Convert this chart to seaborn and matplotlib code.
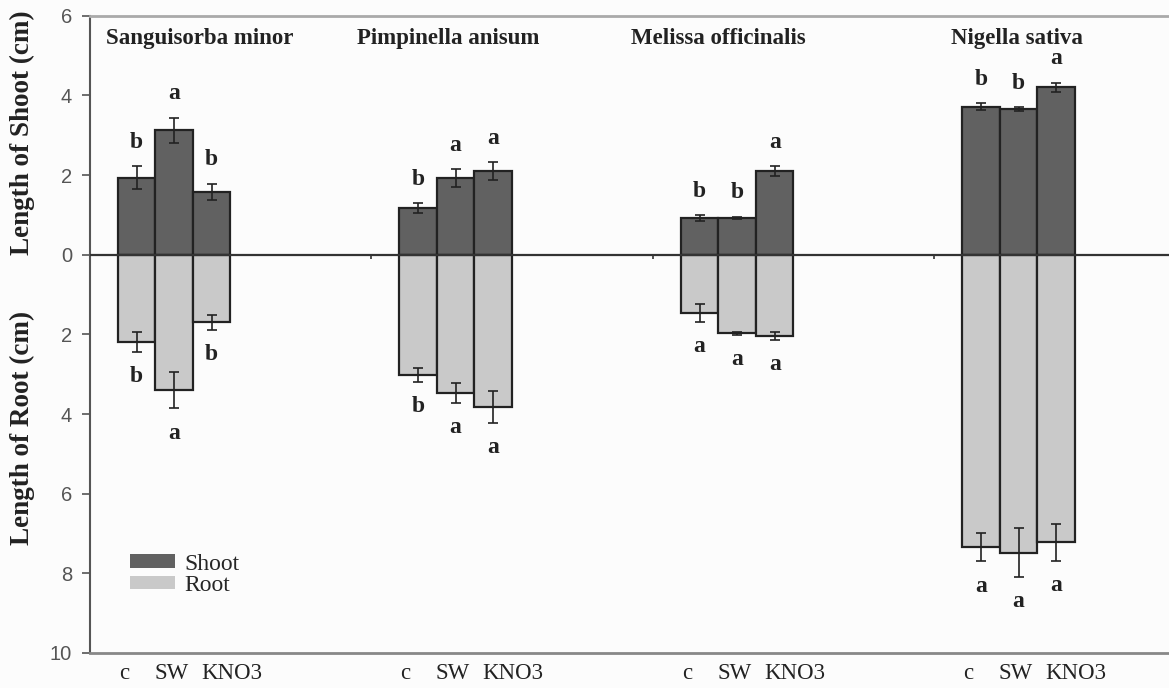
import numpy as np
import pandas as pd
import matplotlib
matplotlib.use("Agg")
import matplotlib.pyplot as plt
from matplotlib.patches import Patch
import seaborn as sns


species = ["Sanguisorba minor", "Pimpinella anisum", "Melissa officinalis", "Nigella sativa"]
treatments = ["c", "SW", "KNO3"]

# shoot / root length (cm), one row per species, columns c, SW, KNO3
shoot = [[1.93, 3.12, 1.58],
         [1.17, 1.93, 2.10],
         [0.92, 0.93, 2.10],
         [3.72, 3.65, 4.20]]
shoot_err = [[0.29, 0.32, 0.20],
             [0.13, 0.22, 0.23],
             [0.07, 0.03, 0.12],
             [0.09, 0.05, 0.12]]
root = [[2.19, 3.40, 1.70],
        [3.02, 3.47, 3.83],
        [1.46, 1.97, 2.03],
        [7.35, 7.48, 7.22]]
root_err = [[0.25, 0.46, 0.19],
            [0.18, 0.25, 0.40],
            [0.23, 0.04, 0.10],
            [0.35, 0.62, 0.46]]
shoot_letters = [["b", "a", "b"], ["b", "a", "a"], ["b", "b", "a"], ["b", "b", "a"]]
root_letters = [["b", "a", "b"], ["b", "a", "a"], ["a", "a", "a"], ["a", "a", "a"]]

rows = []
for i, sp in enumerate(species):
    for j, tr in enumerate(treatments):
        rows.append({"species": sp, "treatment": tr,
                     "shoot": shoot[i][j], "shoot_err": shoot_err[i][j],
                     "root": root[i][j], "root_err": root_err[i][j],
                     "shoot_letter": shoot_letters[i][j], "root_letter": root_letters[i][j]})
df = pd.DataFrame(rows)
df["root_down"] = -df["root"]

dark = "#616161"
light = "#c9c9c9"
ink = "#222222"

sns.set_theme(style="white")
plt.rcParams["font.family"] = ["Liberation Serif", "DejaVu Serif"]

fig = plt.figure(figsize=(11.69, 6.88), dpi=100)
fig.patch.set_facecolor("#fcfcfc")
ax = fig.add_axes([0.077, 0.051, 0.923, 0.926])
ax.set_facecolor("#fcfcfc")

sns.barplot(data=df, x="species", y="shoot", hue="treatment", hue_order=treatments,
            palette=[dark] * 3, width=0.4, gap=0, edgecolor=ink, linewidth=1.6,
            errorbar=None, legend=False, saturation=1, ax=ax)
n_shoot = len(ax.patches)
sns.barplot(data=df, x="species", y="root_down", hue="treatment", hue_order=treatments,
            palette=[light] * 3, width=0.4, gap=0, edgecolor=ink, linewidth=1.6,
            errorbar=None, legend=False, saturation=1, ax=ax)

bars = sorted(ax.patches[:n_shoot], key=lambda p: p.get_x())
xs = np.array([p.get_x() + p.get_width() / 2 for p in bars])

ax.errorbar(xs, df["shoot"], yerr=df["shoot_err"], fmt="none", ecolor=ink,
            elinewidth=1.2, capsize=3.5, capthick=1.2, zorder=5)
ax.errorbar(xs, df["root_down"], yerr=df["root_err"], fmt="none", ecolor=ink,
            elinewidth=1.2, capsize=3.5, capthick=1.2, zorder=5)

for x, r in zip(xs, df.itertuples()):
    ax.text(x, r.shoot + r.shoot_err + 0.6, r.shoot_letter, ha="center", va="center",
            fontsize=17, fontweight="bold", color=ink)
    ax.text(x, -(r.root + r.root_err + 0.62), r.root_letter, ha="center", va="center",
            fontsize=17, fontweight="bold", color=ink)

# species titles
title_dx = [0.09, -0.025, -0.068, -0.007]
for i, sp in enumerate(species):
    ax.text(i + title_dx[i], 5.43, sp, ha="center", va="center",
            fontsize=16.5, fontweight="bold", color=ink)

ax.axhline(0, color="#333333", lw=1.6, zorder=4)
ax.vlines(np.arange(len(species)) + 0.7, -0.1, 0, color="#333333", lw=1.2, zorder=4)

ax.set_xlim(-0.299, 3.534)
ax.set_ylim(-10, 6)
yt = np.arange(-10, 7, 2)
ax.set_yticks(yt)
ax.set_yticklabels([str(abs(v)) for v in yt], fontfamily="Liberation Sans",
                   fontsize=14.5, color="#555555")

label_dx = [-0.046, -0.01, 0.07]
ax.set_xticks(xs + np.tile(label_dx, len(species)))
ax.set_xticklabels(treatments * len(species), fontsize=16.5, color=ink)
ax.tick_params(axis="x", length=0, pad=7)
ax.tick_params(axis="y", length=6, width=1.2, color="#555555", left=True, pad=7)
ax.set_xlabel("")
ax.set_ylabel("")

ax.spines["left"].set_color("#555555")
ax.spines["left"].set_linewidth(1.5)
ax.spines["bottom"].set_color("#888888")
ax.spines["bottom"].set_linewidth(2)
ax.spines["top"].set_color("#aaaaaa")
ax.spines["top"].set_linewidth(2)
ax.spines["right"].set_visible(False)

fig.text(0.019, 1 - 133 / 688, "Length of Shoot (cm)", rotation=90, ha="center", va="center",
         fontsize=19.5, fontweight="bold", color=ink)
fig.text(0.019, 1 - 428 / 688, "Length of Root (cm)", rotation=90, ha="center", va="center",
         fontsize=19.5, fontweight="bold", color=ink)

handles = [Patch(facecolor=dark, edgecolor="none"), Patch(facecolor=light, edgecolor="none")]
ax.legend(handles, ["Shoot", "Root"], loc="upper left", bbox_to_anchor=(0.037, 0.156),
          frameon=False, fontsize=17, handlelength=1.9, handleheight=0.5,
          handletextpad=0.4, labelspacing=0.02, borderpad=0, borderaxespad=0)

fig.savefig("out.png", dpi=100, facecolor=fig.get_facecolor())
